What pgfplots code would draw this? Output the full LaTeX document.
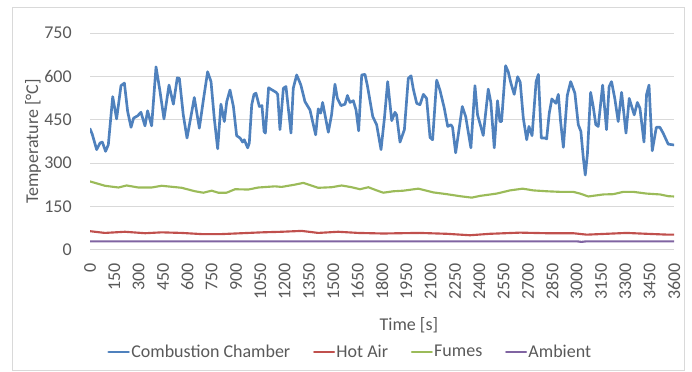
\documentclass[border=0pt]{standalone}
\usepackage{pgfplots}
\pgfplotsset{compat=1.18}
\usepackage{fontspec}
\setmainfont{Carlito}

\definecolor{txtgray}{HTML}{595959}
\definecolor{gridgray}{HTML}{D9D9D9}
\definecolor{ccblue}{HTML}{4F81BD}
\definecolor{hared}{HTML}{C0504D}
\definecolor{fmgreen}{HTML}{9BBB59}
\definecolor{ampurple}{HTML}{8064A2}

\newcommand{\chartfont}{\fontsize{13.5}{16}\selectfont}

\begin{document}
\begin{tikzpicture}
% chart area: 1px = 0.75pt, 692 x 371 px
\path[use as bounding box] (0,0) rectangle (519pt,278.25pt);
\draw[gridgray, line width=0.75pt] (9pt,0.75pt) rectangle (513pt,272.25pt);

\begin{axis}[
  at={(67.5pt,90.75pt)}, anchor=south west,
  scale only axis, width=438pt, height=162.75pt,
  xmin=0, xmax=3600, ymin=0, ymax=750,
  xtick distance=150,
  ytick={0,150,...,750},
  ymajorgrids,
  grid style={gridgray, line width=0.75pt},
  axis line style={draw=none},
  tick style={draw=none},
  major tick length=0pt,
  /pgf/number format/assume math mode=true,
  /pgf/number format/1000 sep={},
  ticklabel style={font=\chartfont, text=txtgray, inner sep=0pt},
  xticklabel style={rotate=90, anchor=east},
  xticklabel shift=9.5pt,
  yticklabel shift=13.5pt,
  label style={font=\chartfont, text=txtgray},
  xlabel={Time [s]},
  ylabel={Temperature [°C]},
  xlabel style={at={(axis description cs:0.546,-0.3456)}, anchor=center},
  ylabel style={at={(axis description cs:-0.0976,0.5)}, anchor=center},
  legend columns=4,
  legend style={draw=none, fill=none, font=\chartfont, text=txtgray,
    at={(axis description cs:0.445,-0.47)}, anchor=center,
    /tikz/every even column/.append style={column sep=16pt},
    nodes={inner sep=1pt}},
  legend image code/.code={\draw[#1] (0pt,0pt) -- (15pt,0pt);},
  every axis plot/.append style={line join=round, line cap=round},
]

% Combustion chamber
\addplot[ccblue, line width=2pt] coordinates {
(0,419) (14,400) (41,347) (62,370) (76,373) (96,341) (113,364) (140,530)
(164,453) (191,568) (212,577) (232,479) (253,424) (269,456) (294,464) (314,476)
(339,429) (355,481) (380,429) (407,633) (431,550) (456,453) (487,570) (514,504)
(538,595) (551,593) (575,467) (598,387) (622,461) (643,527) (674,421) (699,519)
(725,616) (746,582) (766,456) (787,350) (807,504) (828,444) (843,513) (863,553)
(884,496) (904,395) (925,387) (941,373) (951,381) (972,353) (982,370) (997,502)
(1011,538) (1023,542) (1044,496) (1060,499) (1073,410) (1081,404) (1101,561) (1114,556)
(1147,545) (1157,538) (1171,416) (1192,559) (1208,565) (1239,404) (1253,559) (1274,605)
(1290,584) (1300,570) (1325,513) (1356,484) (1391,398) (1407,488) (1422,473) (1434,510)
(1469,407) (1489,467) (1510,573) (1525,524) (1547,499) (1572,504) (1587,534) (1603,510)
(1623,516) (1640,484) (1656,412) (1675,605) (1695,607) (1710,568) (1743,461) (1767,433)
(1794,347) (1815,456) (1835,582) (1860,447) (1880,476) (1890,467) (1911,373) (1938,416)
(1962,593) (1979,602) (1993,556) (2014,507) (2034,502) (2055,538) (2075,524) (2096,389)
(2112,381) (2137,587) (2157,553) (2184,490) (2205,427) (2225,433) (2235,424) (2254,336)
(2270,398) (2295,496) (2316,461) (2348,353) (2373,568) (2389,467) (2406,433) (2424,396)
(2455,556) (2471,510) (2492,353) (2512,516) (2527,444) (2537,444) (2562,637) (2578,616)
(2595,576) (2615,538) (2636,599) (2652,580) (2671,456) (2692,381) (2706,427) (2725,395)
(2750,582) (2764,607) (2782,387) (2805,387) (2815,384) (2831,473) (2847,522) (2872,507)
(2887,538) (2901,444) (2918,355) (2942,534) (2963,582) (2989,542) (3010,433) (3026,410)
(3041,318) (3053,259) (3066,330) (3086,545) (3102,496) (3118,433) (3133,427) (3160,570)
(3184,416) (3200,565) (3215,582) (3235,524) (3256,444) (3277,545) (3304,404) (3324,524)
(3339,496) (3355,467) (3374,510) (3390,490) (3415,373) (3431,538) (3446,570) (3466,343)
(3491,424) (3513,424) (3533,404) (3564,366) (3600,363)
};
\addlegendentry{Combustion Chamber}

% Hot air
\addplot[hared, line width=1.6pt] coordinates {
(0,65) (92,59) (215,63) (340,58) (442,61) (565,59) (688,55) (811,55)
(935,58) (1058,61) (1181,63) (1305,66) (1407,59) (1530,63) (1654,59) (1808,57)
(1911,58) (2034,59) (2199,56) (2342,51) (2466,56) (2651,60) (2815,58) (2979,58)
(3062,53) (3226,57) (3308,59) (3431,56) (3565,53) (3600,53)
};
\addlegendentry{Hot Air}

% Fumes
\addplot[fmgreen, line width=1.6pt] coordinates {
(0,237) (92,222) (175,216) (226,223) (298,216) (380,216) (442,222) (565,215)
(647,203) (699,198) (750,205) (791,198) (842,198) (894,210) (976,209) (1038,216)
(1140,220) (1181,218) (1264,226) (1315,232) (1407,215) (1490,217) (1551,223) (1613,217)
(1664,210) (1716,217) (1767,206) (1808,198) (1870,203) (1932,205) (2024,212) (2117,199)
(2199,193) (2281,186) (2353,181) (2404,187) (2507,195) (2589,206) (2667,212) (2733,206)
(2815,203) (2897,201) (2979,201) (3021,195) (3072,185) (3164,192) (3226,193) (3288,201)
(3349,201) (3431,195) (3514,192) (3565,186) (3600,185)
};
\addlegendentry{Fumes}

% Ambient
\addplot[ampurple, line width=1.6pt] coordinates {
(0,30) (600,30) (1200,30) (1800,30) (2400,30) (3000,30) (3030,28) (3060,30) (3600,30)
};
\addlegendentry{Ambient}

\end{axis}
\end{tikzpicture}
\end{document}
